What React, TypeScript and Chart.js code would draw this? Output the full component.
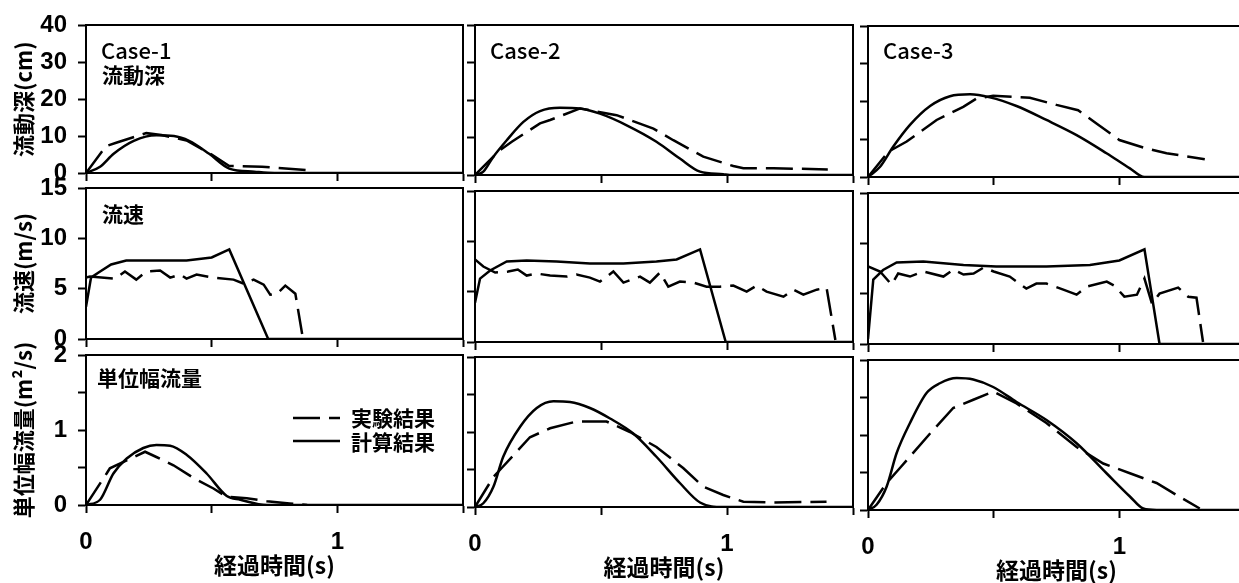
import React, { useEffect, useRef } from 'react';
import { Chart, registerables } from 'chart.js';

Chart.register(...registerables);

type Pt = [number, number];

// ---------- text ----------
const caseNames = ['Case-1', 'Case-2', 'Case-3'];
const rowNames = ['流動深', '流速', '単位幅流量'];
const yTitles = ['流動深(cm)', '流速(m/s)', '単位幅流量(m²/s)'];
const xTitle = '経過時間(s)';
const legendLabels = ['実験結果', '計算結果'];

// ---------- ticks ----------
const timeTicks = [0, 0.5, 1, 1.5];
const timeTickLabels = ['0', '', '1', ''];
const depthTicks = [0, 10, 20, 30, 40];
const depthTickLabels = ['0', '10', '20', '30', '40'];
const velocityTicks = [0, 5, 10, 15];
const velocityTickLabels = ['0', '5', '10', '15'];
const dischargeTicks = [0, 0.5, 1, 1.5, 2];
const dischargeTickLabels = ['0', '', '1', '', '2'];

// ---------- data: [time (s), value] ----------
// Case-1
const case1DepthExp: Pt[] = [[0, 0], [0.08, 7.3], [0.12, 8.2], [0.24, 10.8], [0.3, 10.3], [0.4, 8.8], [0.5, 5], [0.57, 1.9], [0.7, 1.7], [0.9, 0.7]];
const case1DepthCalc: Pt[] = [[0, 0], [0.056, 1.7], [0.11, 5.2], [0.19, 8.7], [0.28, 10.2], [0.35, 10], [0.41, 8.7], [0.49, 5.2], [0.57, 1.2], [0.67, 0.35], [0.75, 0], [1.5, 0]];
const case1VelExp: Pt[] = [[0, 6.1], [0.016, 6.2], [0.116, 6.0], [0.155, 6.7], [0.2, 5.9], [0.24, 6.7], [0.295, 6.8], [0.335, 6.1], [0.375, 6.4], [0.4, 6.0], [0.44, 6.4], [0.507, 6.1], [0.587, 5.9], [0.627, 5.5], [0.667, 5.9], [0.707, 5.4], [0.733, 4.4], [0.76, 4.5], [0.793, 5.3], [0.833, 4.5], [0.86, 0.5]];
const case1VelCalc: Pt[] = [[0, 3.2], [0.02, 6.1], [0.05, 6.6], [0.1, 7.4], [0.16, 7.8], [0.4, 7.8], [0.5, 8.1], [0.57, 8.9], [0.725, 0], [1.5, 0]];
const case1QExp: Pt[] = [[0, 0], [0.082, 0.42], [0.095, 0.49], [0.235, 0.71], [0.28, 0.64], [0.348, 0.53], [0.428, 0.36], [0.507, 0.22], [0.56, 0.11], [0.64, 0.09], [0.72, 0.05], [0.81, 0.02], [0.88, 0]];
const case1QCalc: Pt[] = [[0, 0], [0.056, 0.07], [0.109, 0.42], [0.162, 0.62], [0.228, 0.76], [0.28, 0.8], [0.335, 0.79], [0.4, 0.67], [0.48, 0.42], [0.56, 0.12], [0.614, 0.07], [0.72, 0], [1.5, 0]];
// Case-2
const case2DepthExp: Pt[] = [[0, 0], [0.046, 3.1], [0.1, 6.7], [0.146, 8.9], [0.258, 13.8], [0.298, 14.7], [0.417, 17.8], [0.562, 16], [0.708, 12.4], [0.787, 9.3], [0.906, 4.9], [1.025, 2.4], [1.065, 1.8], [1.184, 1.8], [1.4, 1.5]];
const case2DepthCalc: Pt[] = [[0, 0], [0.033, 0.9], [0.073, 4.9], [0.126, 9.3], [0.192, 14.2], [0.258, 17.1], [0.337, 18], [0.417, 17.8], [0.496, 16.4], [0.602, 13.3], [0.72, 8.9], [0.813, 4.4], [0.893, 0.9], [0.985, 0.2], [1.01, 0], [1.5, 0]];
const case2VelExp: Pt[] = [[0, 8.2], [0.033, 7.5], [0.08, 6.9], [0.132, 7.0], [0.17, 7.2], [0.205, 6.6], [0.245, 6.8], [0.298, 6.6], [0.364, 6.5], [0.403, 6.7], [0.456, 6.4], [0.496, 6.0], [0.549, 7.0], [0.589, 5.9], [0.655, 6.5], [0.694, 5.9], [0.734, 6.9], [0.767, 5.5], [0.813, 6.0], [0.866, 5.9], [0.919, 5.5], [0.972, 5.5], [1.025, 5.6], [1.078, 5.0], [1.118, 5.6], [1.157, 5.0], [1.224, 4.5], [1.263, 5.2], [1.303, 4.7], [1.356, 5.2], [1.395, 5.4], [1.43, 0.2]];
const case2VelCalc: Pt[] = [[0, 3.9], [0.02, 6.3], [0.06, 7.1], [0.126, 8.0], [0.205, 8.1], [0.324, 8.0], [0.456, 7.8], [0.589, 7.8], [0.72, 8.0], [0.8, 8.2], [0.893, 9.2], [0.995, 0], [1.5, 0]];
const case2QExp: Pt[] = [[0, 0], [0.073, 0.4], [0.106, 0.52], [0.218, 0.93], [0.298, 1.05], [0.403, 1.14], [0.522, 1.14], [0.615, 1.0], [0.72, 0.8], [0.826, 0.52], [0.906, 0.27], [0.985, 0.16], [1.065, 0.07], [1.184, 0.06], [1.395, 0.07]];
const case2QCalc: Pt[] = [[0, 0], [0.033, 0.05], [0.073, 0.27], [0.112, 0.67], [0.179, 1.07], [0.245, 1.32], [0.311, 1.41], [0.377, 1.4], [0.456, 1.32], [0.536, 1.18], [0.628, 0.98], [0.72, 0.67], [0.813, 0.32], [0.893, 0.06], [0.985, 0], [1.5, 0]];
// Case-3
const case3DepthExp: Pt[] = [[0, 0], [0.081, 6.7], [0.154, 9.4], [0.273, 15.1], [0.379, 18.6], [0.432, 20.8], [0.498, 21.5], [0.644, 21], [0.75, 19.1], [0.836, 17.7], [0.909, 14.2], [1.0, 9.8], [1.095, 7.8], [1.188, 6.3], [1.34, 4.7]];
const case3DepthCalc: Pt[] = [[0, 0], [0.048, 2.7], [0.1, 8], [0.167, 13.8], [0.247, 18.8], [0.326, 21.4], [0.406, 21.9], [0.485, 21.1], [0.591, 18.8], [0.71, 15.1], [0.83, 11.1], [0.949, 6.3], [1.042, 2.3], [1.1, 0], [1.5, 0]];
const case3VelExp: Pt[] = [[0, 7.7], [0.048, 7.2], [0.094, 5.9], [0.12, 7.0], [0.167, 6.7], [0.22, 7.2], [0.3, 6.7], [0.34, 7.4], [0.38, 6.9], [0.42, 7.0], [0.46, 7.6], [0.5, 7.2], [0.564, 6.7], [0.63, 5.5], [0.67, 6.0], [0.71, 6.0], [0.777, 5.4], [0.83, 4.9], [0.87, 5.7], [0.95, 6.2], [0.98, 5.8], [1.02, 4.7], [1.07, 4.9], [1.1, 6.5], [1.13, 4.0], [1.16, 5.0], [1.234, 5.6], [1.274, 4.7], [1.307, 4.6], [1.333, 0.2]];
const case3VelCalc: Pt[] = [[0, 0.5], [0.021, 6.4], [0.06, 7.35], [0.114, 8.1], [0.22, 8.2], [0.38, 7.85], [0.51, 7.7], [0.71, 7.7], [0.883, 7.85], [1.0, 8.3], [1.1, 9.4], [1.16, 0], [1.5, 0]];
const case3QExp: Pt[] = [[0, 0], [0.074, 0.36], [0.127, 0.56], [0.247, 1.02], [0.339, 1.36], [0.419, 1.47], [0.498, 1.58], [0.591, 1.42], [0.71, 1.16], [0.83, 0.84], [0.936, 0.62], [1.042, 0.49], [1.148, 0.36], [1.227, 0.2], [1.32, 0.02]];
const case3QCalc: Pt[] = [[0, 0], [0.034, 0.07], [0.074, 0.31], [0.114, 0.76], [0.167, 1.16], [0.233, 1.56], [0.286, 1.69], [0.353, 1.76], [0.419, 1.74], [0.498, 1.64], [0.591, 1.44], [0.71, 1.2], [0.83, 0.89], [0.949, 0.49], [1.042, 0.18], [1.095, 0.02], [1.148, 0], [1.5, 0]];

// ---------- layout (page pixels) ----------
const CW = 1260;
const CH = 600;
const colLeft = [86, 475, 868];
const colRight = [463, 853, 1245];
const rowTop = [[21, 24, 26], [188, 191, 193], [355, 357, 360]];
const rowBottom = [[173, 175, 177], [339, 342, 344], [505, 507, 510]];

const rowTicks = [depthTicks, velocityTicks, dischargeTicks];
const rowTickLabels = [depthTickLabels, velocityTickLabels, dischargeTickLabels];
const seriesGrid: Pt[][][] = [
  [case1DepthExp, case1DepthCalc, case2DepthExp, case2DepthCalc, case3DepthExp, case3DepthCalc],
  [case1VelExp, case1VelCalc, case2VelExp, case2VelCalc, case3VelExp, case3VelCalc],
  [case1QExp, case1QCalc, case2QExp, case2QCalc, case3QExp, case3QCalc],
];

const DASH = [27, 9];
const JP = '"Noto Sans CJK JP", "Noto Sans", sans-serif';
const NUM = '"Liberation Sans", Arial, sans-serif';

const notesPlugin = {
  id: 'panelNotes',
  afterDraw(chart: any, _args: any, opts: any) {
    const { ctx, chartArea } = chart;
    ctx.save();
    ctx.fillStyle = '#000';
    ctx.strokeStyle = '#000';
    ctx.textBaseline = 'middle';
    ctx.textAlign = 'left';
    for (const n of opts.items || []) {
      ctx.font = n.font;
      ctx.fillText(n.text, chartArea.left + n.dx, chartArea.top + n.dy);
    }
    for (const l of opts.lines || []) {
      ctx.beginPath();
      ctx.lineWidth = 2.5;
      ctx.setLineDash(l.dash);
      ctx.moveTo(chartArea.left + l.x1, chartArea.top + l.dy);
      ctx.lineTo(chartArea.left + l.x2, chartArea.top + l.dy);
      ctx.stroke();
    }
    ctx.restore();
  },
};

function makeConfig(row: number, col: number): any {
  const L = colLeft[col];
  const R = colRight[col];
  const T = rowTop[row][col];
  const B = rowBottom[row][col];
  const Wy = col === 0 ? 86 : 12;
  const Hx = row === 2 ? 80 : 10;
  const exp = seriesGrid[row][col * 2];
  const calc = seriesGrid[row][col * 2 + 1];
  const yt = rowTicks[row];
  const ytl = rowTickLabels[row];

  const items: any[] = [];
  const lines: any[] = [];
  if (row === 0) items.push({ text: caseNames[col], dx: 15, dy: 25, font: `500 22px ${JP}` });
  if (col === 0) {
    const dxs = [16, 16, 11];
    const dys = [50, 26, 23];
    items.push({ text: rowNames[row], dx: dxs[row], dy: dys[row], font: `bold 21px ${JP}` });
  }
  if (row === 2 && col === 0) {
    lines.push({ x1: 207, x2: 254, dy: 63, dash: DASH });
    lines.push({ x1: 207, x2: 254, dy: 86, dash: [] });
    items.push({ text: legendLabels[0], dx: 265, dy: 63, font: `bold 21px ${JP}` });
    items.push({ text: legendLabels[1], dx: 265, dy: 87, font: `bold 21px ${JP}` });
  }

  const border = { display: true, color: '#000', width: 2 };
  const smoothCalc = row !== 1;

  return {
    type: 'line',
    data: {
      datasets: [
        {
          label: legendLabels[0],
          data: exp.map(([x, y]) => ({ x, y })),
          borderColor: '#000',
          borderWidth: 2.5,
          borderDash: DASH,
          pointRadius: 0,
          tension: 0,
          fill: false,
        },
        {
          label: legendLabels[1],
          data: calc.map(([x, y]) => ({ x, y })),
          borderColor: '#000',
          borderWidth: 2.5,
          pointRadius: 0,
          tension: smoothCalc ? 0.4 : 0,
          cubicInterpolationMode: smoothCalc ? 'monotone' : 'default',
          fill: false,
        },
      ],
    },
    plugins: [notesPlugin],
    options: {
      animation: false,
      responsive: false,
      devicePixelRatio: 1,
      events: [],
      layout: { padding: { left: L - Wy, right: CW - R, top: T, bottom: CH - B - Hx } },
      plugins: {
        legend: { display: false },
        tooltip: { enabled: false },
        title: { display: false },
        panelNotes: { items, lines },
      },
      scales: {
        x: {
          type: 'linear',
          position: 'bottom',
          min: 0,
          max: 1.5,
          afterBuildTicks: (s: any) => { s.ticks = timeTicks.map((v) => ({ value: v })); },
          afterFit: (s: any) => { s.height = Hx; },
          ticks: {
            color: '#000',
            font: { family: NUM, size: 24, weight: 'bold' },
            padding: 15,
            maxRotation: 0,
            autoSkip: false,
            callback: (_v: any, i: number) => (row === 2 ? timeTickLabels[i] : ''),
          },
          grid: { drawOnChartArea: false, drawTicks: true, tickLength: 8, tickWidth: 2, tickColor: '#000' },
          border,
          title: {
            display: row === 2,
            text: xTitle,
            color: '#000',
            font: { family: JP, size: 23, weight: 'bold' },
            padding: { top: 0, bottom: 6 },
          },
        },
        y: {
          type: 'linear',
          position: 'left',
          min: yt[0],
          max: yt[yt.length - 1],
          afterBuildTicks: (s: any) => { s.ticks = yt.map((v) => ({ value: v })); },
          afterFit: (s: any) => { s.width = Wy; },
          ticks: {
            color: '#000',
            font: { family: NUM, size: 24, weight: 'bold' },
            padding: 11,
            autoSkip: false,
            callback: (_v: any, i: number) => (col === 0 ? ytl[i] : ''),
          },
          grid: { drawOnChartArea: false, drawTicks: true, tickLength: 8, tickWidth: 2, tickColor: '#000' },
          border,
          title: {
            display: col === 0,
            text: yTitles[row],
            color: '#000',
            font: { family: JP, size: 22, weight: 'bold' },
            padding: { top: 10, bottom: 0 },
          },
        },
        x2: {
          type: 'linear',
          position: 'top',
          min: 0,
          max: 1.5,
          afterFit: (s: any) => { s.height = 0; },
          ticks: { display: false },
          grid: { display: false, drawTicks: false },
          border,
        },
        y2: {
          type: 'linear',
          position: 'right',
          min: 0,
          max: 1,
          afterFit: (s: any) => { s.width = 0; },
          ticks: { display: false },
          grid: { display: false, drawTicks: false },
          border,
        },
      },
    },
  };
}

const panelList: [number, number][] = [];
for (let r = 0; r < 3; r++) for (let c = 0; c < 3; c++) panelList.push([r, c]);

export default function App() {
  const refs = useRef<(HTMLCanvasElement | null)[]>([]);
  useEffect(() => {
    const charts = panelList.map(([r, c], i) => new Chart(refs.current[i] as HTMLCanvasElement, makeConfig(r, c)));
    return () => charts.forEach((ch) => ch.destroy());
  }, []);
  return (
    <div style={{ position: 'fixed', left: 0, top: 0, width: 1239, height: 583, overflow: 'hidden', background: '#fff' }}>
      {panelList.map((_p, i) => (
        <canvas
          key={i}
          ref={(el) => { refs.current[i] = el; }}
          width={CW}
          height={CH}
          style={{ position: 'absolute', left: 0, top: 0, width: CW, height: CH }}
        />
      ))}
    </div>
  );
}
